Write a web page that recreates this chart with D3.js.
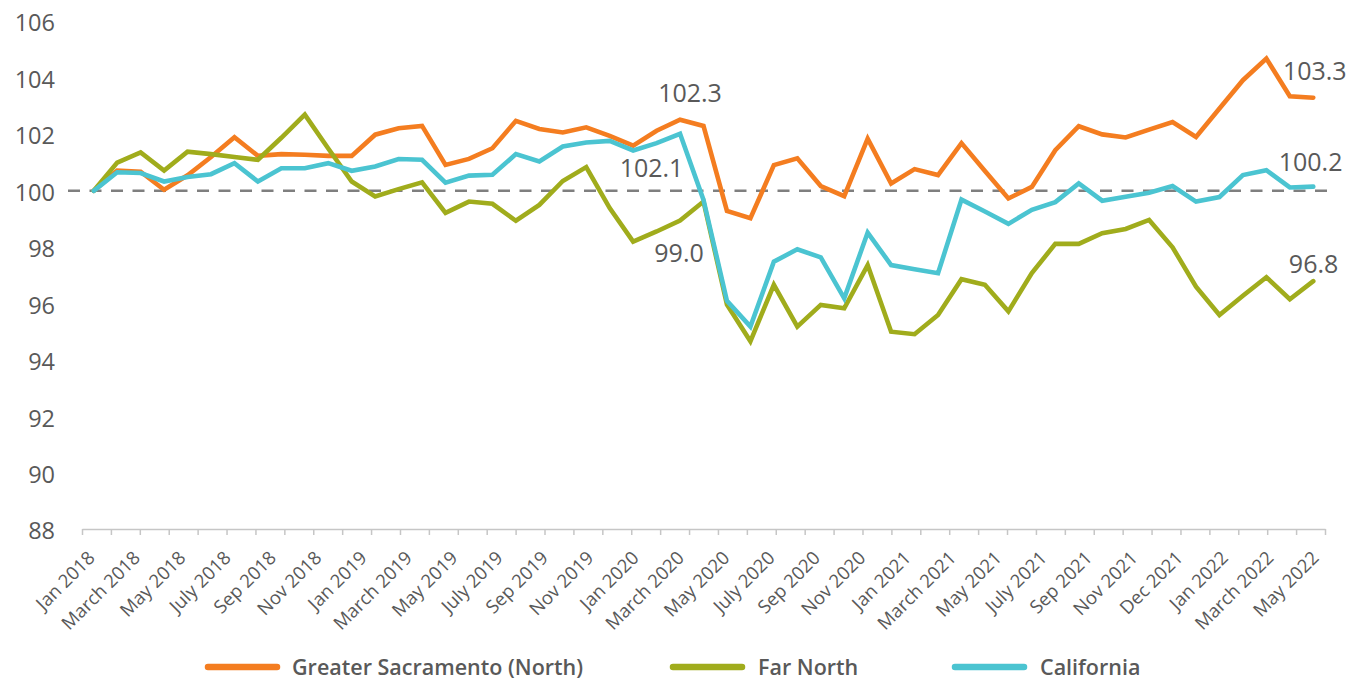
<!DOCTYPE html>
<html>
<head>
<meta charset="utf-8">
<script src="https://cdn.jsdelivr.net/npm/d3@7"></script>
<style>
  body { margin: 0; background: #fff; }
  svg text { font-family: 'Open Sans', sans-serif; fill: #595959; }
</style>
</head>
<body>
<script>
'use strict';

// monthly categories, Jan 2018 .. May 2022
const months = d3.timeMonth.range(new Date(2018, 0, 1), new Date(2022, 5, 1));

const sacramento = [100.0, 100.72, 100.68, 100.04, 100.55, 101.2, 101.9, 101.24, 101.3, 101.28,
  101.24, 101.24, 101.99, 102.22, 102.3, 100.92, 101.13, 101.51, 102.48, 102.19,
  102.07, 102.25, 101.95, 101.6, 102.13, 102.52, 102.3, 99.29, 99.03, 100.91,
  101.15, 100.17, 99.81, 101.85, 100.26, 100.77, 100.56, 101.69, 100.7, 99.73,
  100.14, 101.44, 102.29, 102.0, 101.89, 102.17, 102.44, 101.91, 102.92, 103.92,
  104.69, 103.35, 103.3];

const farNorth = [100.0, 101.0, 101.36, 100.72, 101.39, 101.3, 101.2, 101.1, 101.88, 102.7,
  101.5, 100.33, 99.8, 100.06, 100.3, 99.22, 99.62, 99.54, 98.94, 99.5,
  100.35, 100.84, 99.39, 98.2, 98.56, 98.95, 99.62, 95.97, 94.67, 96.67,
  95.19, 95.96, 95.84, 97.37, 95.01, 94.92, 95.6, 96.87, 96.67, 95.73,
  97.09, 98.12, 98.12, 98.5, 98.65, 98.97, 98.0, 96.6, 95.6, 96.28,
  96.94, 96.16, 96.8];

const california = [100.0, 100.66, 100.63, 100.33, 100.49, 100.59, 100.98, 100.33, 100.8, 100.8,
  100.98, 100.71, 100.86, 101.13, 101.1, 100.29, 100.54, 100.57, 101.3, 101.04,
  101.57, 101.71, 101.77, 101.43, 101.69, 102.02, 99.68, 96.1, 95.19, 97.49,
  97.93, 97.64, 96.19, 98.52, 97.37, 97.22, 97.08, 99.69, 99.27, 98.83,
  99.33, 99.6, 100.26, 99.65, 99.79, 99.93, 100.17, 99.62, 99.78, 100.56,
  100.73, 100.12, 100.15];

const xLabels = ['Jan 2018', 'March 2018', 'May 2018', 'July 2018', 'Sep 2018', 'Nov 2018',
  'Jan 2019', 'March 2019', 'May 2019', 'July 2019', 'Sep 2019', 'Nov 2019',
  'Jan 2020', 'March 2020', 'May 2020', 'July 2020', 'Sep 2020', 'Nov 2020',
  'Jan 2021', 'March 2021', 'May 2021', 'July 2021', 'Sep 2021', 'Nov 2021',
  'Dec 2021', 'Jan 2022', 'March 2022', 'May 2022'];

const yTicks = [88, 90, 92, 94, 96, 98, 100, 102, 104, 106];
const seriesNames = ['Greater Sacramento (North)', 'Far North', 'California'];
const seriesColors = ['#f47d20', '#a0ac1c', '#4bc4d1'];
const baseline = 100;

// value labels: series index, month index, text
const callouts = [
  { s: 0, i: 25, text: '102.3' },
  { s: 2, i: 25, text: '102.1' },
  { s: 1, i: 25, text: '99.0' },
  { s: 0, i: 52, text: '103.3' },
  { s: 2, i: 52, text: '100.2' },
  { s: 1, i: 52, text: '96.8' }
];

(function() {
  const allSeries = [sacramento, farNorth, california];

  const svg = d3.select('body')
    .append('svg')
    .attr('width', 1362)
    .attr('height', 681);

  // scales
  const xScale = d3.scaleLinear()
    .domain([-0.5, months.length - 0.5])
    .range([82, 1325]);

  const yScale = d3.scaleLinear()
    .domain([88, 106])
    .range([529.5, 21.5]);

  // x axis line and tick marks (43 evenly spaced ticks)
  const tickScale = d3.scaleLinear().domain([0, 43]).range([82, 1325]);
  const xAxis = svg.append('g')
    .attr('transform', 'translate(0, 529)')
    .call(d3.axisBottom(tickScale)
      .tickValues(d3.range(44))
      .tickSize(6)
      .tickSizeOuter(0)
      .tickFormat(''));
  xAxis.selectAll('path, line')
    .attr('stroke', '#c6c6c6')
    .attr('stroke-width', 1.5);

  // x labels
  const labelScale = d3.scalePoint()
    .domain(xLabels)
    .range([96, 1320]);

  svg.append('g')
    .selectAll('text')
    .data(xLabels)
    .enter()
    .append('text')
    .attr('transform', d => 'translate(' + labelScale(d) + ', 559) rotate(-45)')
    .attr('text-anchor', 'end')
    .style('font-size', '18.5px')
    .text(d => d);

  // y axis labels only
  const yAxis = svg.append('g')
    .attr('transform', 'translate(55, 0)')
    .call(d3.axisLeft(yScale)
      .tickValues(yTicks)
      .tickSize(0)
      .tickPadding(0));
  yAxis.select('.domain').remove();
  yAxis.selectAll('text')
    .attr('dy', '0.4em')
    .style('font-size', '23.5px')
    .style('font-family', "'Open Sans', sans-serif")
    .attr('fill', '#595959');

  // dashed reference line at 100
  svg.append('line')
    .attr('x1', 68)
    .attr('x2', 1332)
    .attr('y1', yScale(baseline))
    .attr('y2', yScale(baseline))
    .attr('stroke', '#7f7f7f')
    .attr('stroke-width', 2.5)
    .attr('stroke-dasharray', '12,9.5');

  // series lines
  const line = d3.line()
    .x((d, i) => xScale(i))
    .y(d => yScale(d));

  svg.append('g')
    .selectAll('path')
    .data(allSeries)
    .enter()
    .append('path')
    .attr('d', line)
    .attr('fill', 'none')
    .attr('stroke', (d, i) => seriesColors[i])
    .attr('stroke-width', 4.6)
    .attr('stroke-linejoin', 'miter')
    .attr('stroke-linecap', 'round');

  // value callouts
  const offsets = [[10, -18], [-28.5, 43], [-1, 41.6], [1.5, -17.7], [-2.7, -15.9], [0.3, -8]];
  svg.append('g')
    .selectAll('text')
    .data(callouts)
    .enter()
    .append('text')
    .attr('x', (d, k) => xScale(d.i) + offsets[k][0])
    .attr('y', (d, k) => yScale(allSeries[d.s][d.i]) + offsets[k][1])
    .attr('text-anchor', 'middle')
    .style('font-size', '25px')
    .text(d => d.text);

  // legend
  const legendLineX = [208, 673, 955];
  const legendTextX = [292, 758, 1040];
  const legend = svg.append('g')
    .selectAll('g')
    .data(seriesNames)
    .enter()
    .append('g');

  legend.append('line')
    .attr('x1', (d, i) => legendLineX[i])
    .attr('x2', (d, i) => legendLineX[i] + 69)
    .attr('y1', 667)
    .attr('y2', 667)
    .attr('stroke', (d, i) => seriesColors[i])
    .attr('stroke-width', 6.5)
    .attr('stroke-linecap', 'round');

  legend.append('text')
    .attr('x', (d, i) => legendTextX[i])
    .attr('y', 675)
    .style('font-size', '21.5px')
    .style('font-weight', 600)
    .text(d => d);
})();
</script>
</body>
</html>
